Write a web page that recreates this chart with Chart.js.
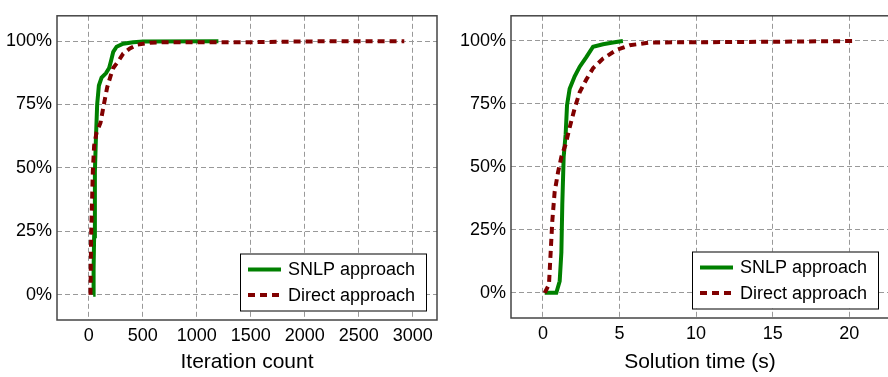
<!DOCTYPE html>
<html>
<head>
<meta charset="utf-8">
<script src="https://cdn.jsdelivr.net/npm/chart.js@4"></script>
<style>
  body { margin: 0; width: 888px; height: 377px; overflow: hidden; background: #fff; position: relative; }
  #iterChart { position: absolute; left: 0; top: 0; }
  #timeChart { position: absolute; left: 444px; top: 0; }
</style>
</head>
<body>
<canvas id="iterChart" width="444" height="377"></canvas>
<canvas id="timeChart" width="452" height="377"></canvas>
<script>
// left panel: iteration count
const iterSnlpX = [40, 44, 49, 56, 65, 77, 93, 118, 158, 188, 204, 226, 257, 318, 411, 504, 1200];
const iterSnlpY = [0, 10, 23, 48.6, 61, 75, 82.5, 85.6, 87.3, 89.4, 92, 95.8, 97.8, 99, 99.6, 99.9, 100];
const iterDirectX = [15, 21, 37, 49, 71, 108, 139, 170, 201, 226, 272, 318, 380, 448, 566, 700, 1500, 2000, 2922];
const iterDirectY = [0, 23, 48.6, 58.8, 63.9, 67.8, 75, 81.8, 86.2, 89.4, 92, 95.1, 97.1, 98.6, 99.4, 99.6, 99.6, 99.9, 100];
const iterTicks = [0, 500, 1000, 1500, 2000, 2500, 3000];

// right panel: solution time
const timeSnlpX = [0.11, 0.87, 1.09, 1.2, 1.26, 1.35, 1.48, 1.57, 1.74, 2.07, 2.4, 2.83, 3.27, 3.92, 4.57, 5.22];
const timeSnlpY = [0, 0, 4.6, 16, 35, 54, 63, 74.5, 81, 86, 89.8, 93.6, 97.7, 98.7, 99.4, 100];
const timeDirectX = [0.11, 0.39, 0.5, 0.61, 0.76, 0.98, 1.2, 1.48, 1.74, 2.07, 2.4, 2.83, 3.27, 3.92, 4.79, 5.66, 6.97, 10, 15, 20.5];
const timeDirectY = [0, 3.3, 16, 28.7, 40, 47.8, 54, 59, 65.6, 73.3, 79.7, 84.7, 89.2, 93, 96.4, 98.3, 99.4, 99.5, 99.7, 100];
const timeTicks = [0, 5, 10, 15, 20];

const pctTicks = [0, 25, 50, 75, 100];
const seriesNames = ['SNLP approach', 'Direct approach'];

const FONT = 'Liberation Sans, Arial, Helvetica, sans-serif';
Chart.defaults.font.family = FONT;
Chart.defaults.color = '#000';

function pts(xs, ys) {
  return xs.map((x, i) => ({x: x, y: ys[i]}));
}

// box around the plot area + legend inside bottom right
const frameLegend = {
  id: 'frameLegend',
  afterDraw(chart) {
    const ctx = chart.ctx;
    const a = chart.chartArea;
    ctx.save();
    ctx.strokeStyle = '#444';
    ctx.lineWidth = 1.5;
    ctx.strokeRect(a.left, a.top, a.right - a.left, a.bottom - a.top);

    const w = 186, h = 57;
    const bx = a.right - 11 - w;
    const by = a.bottom - 9.5 - h;
    ctx.fillStyle = '#fff';
    ctx.fillRect(bx, by, w, h);
    ctx.strokeStyle = '#000';
    ctx.lineWidth = 1;
    ctx.strokeRect(bx + 0.5, by + 0.5, w, h);

    chart.data.datasets.forEach((ds, i) => {
      const ly = by + 16 + i * 25.4;
      ctx.strokeStyle = ds.borderColor;
      ctx.lineWidth = 4;
      ctx.setLineDash(ds.borderDash || []);
      ctx.beginPath();
      ctx.moveTo(bx + 8, ly);
      ctx.lineTo(bx + 41, ly);
      ctx.stroke();
      ctx.setLineDash([]);
      ctx.fillStyle = '#000';
      ctx.font = '18px ' + FONT;
      ctx.textBaseline = 'middle';
      ctx.fillText(ds.label, bx + 48, ly + 1);
    });
    ctx.restore();
  }
};

function makeChart(id, snlp, direct, xMin, xMax, xTicks, xTitle, yWidth, xHeight, pad) {
  return new Chart(document.getElementById(id), {
    type: 'line',
    data: {
      datasets: [{
        label: seriesNames[0],
        data: snlp,
        borderColor: '#008000',
        borderWidth: 4,
        pointRadius: 0,
        tension: 0,
        order: 2
      }, {
        label: seriesNames[1],
        data: direct,
        borderColor: '#800000',
        borderWidth: 4,
        borderDash: [7, 5],
        pointRadius: 0,
        tension: 0,
        order: 1
      }]
    },
    options: {
      responsive: false,
      animation: false,
      layout: {padding: pad},
      plugins: {legend: {display: false}, tooltip: {enabled: false}},
      scales: {
        x: {
          type: 'linear',
          min: xMin,
          max: xMax,
          afterBuildTicks: s => { s.ticks = xTicks.map(v => ({value: v})); },
          afterFit: s => { s.height = xHeight; },
          grid: {color: '#999', lineWidth: 1, drawTicks: false},
          border: {display: false, dash: [5, 3]},
          ticks: {font: {size: 18}, padding: 5, maxRotation: 0, callback: v => String(v)},
          title: {display: true, text: xTitle, font: {size: 21}, padding: {top: 0, bottom: 2}}
        },
        y: {
          min: -10,
          max: 110,
          afterBuildTicks: s => { s.ticks = pctTicks.map(v => ({value: v})); },
          afterFit: s => { s.width = yWidth; },
          grid: {color: '#999', lineWidth: 1, drawTicks: false},
          border: {display: false, dash: [5, 3]},
          ticks: {font: {size: 18}, padding: 5, callback: v => v + '%'}
        }
      }
    },
    plugins: [frameLegend]
  });
}

makeChart('iterChart', pts(iterSnlpX, iterSnlpY), pts(iterDirectX, iterDirectY),
  -295, 3225, iterTicks, 'Iteration count', 57, 57, {left: 0, top: 6, right: 7, bottom: 0});
makeChart('timeChart', pts(timeSnlpX, timeSnlpY), pts(timeDirectX, timeDirectY),
  -2.09, 22.6, timeTicks, 'Solution time (s)', 67, 59, {left: 0, top: 4, right: 7, bottom: 0});
</script>
</body>
</html>
